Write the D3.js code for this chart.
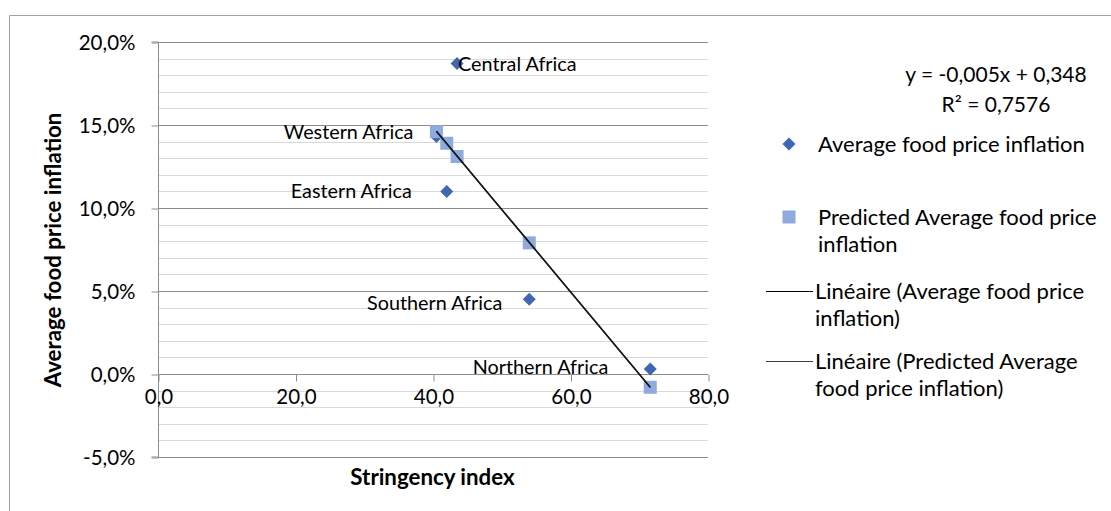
<!DOCTYPE html>
<html><head><meta charset="utf-8">
<script src="https://cdn.jsdelivr.net/npm/d3@7"></script>
<style>
body{margin:0;background:#fff}
text{font-family:Lato,"Noto Sans",sans-serif;fill:#000}
</style>
</head><body>
<svg id="chart" width="1111" height="511"></svg>
<script>
// Regional averages: stringency index vs. food price inflation
const regions    = ["Central Africa", "Western Africa", "Eastern Africa", "Southern Africa", "Northern Africa"];
const stringency = [43.5, 40.5, 42.0, 54.0, 71.6];
const inflation  = [0.187, 0.143, 0.110, 0.045, 0.003];
const predicted  = [0.131, 0.146, 0.139, 0.079, -0.008];

const xTicks = [0, 20, 40, 60, 80];
const yTicks = [-0.05, 0, 0.05, 0.10, 0.15, 0.20];
const equationText = "y = -0,005x + 0,348";
const r2Text = "R² = 0,7576";
const legendLabels = [
  ["Average food price inflation"],
  ["Predicted Average food price", "inflation"],
  ["Linéaire (Average food price", "inflation)"],
  ["Linéaire (Predicted Average", "food price inflation)"]
];

// label placement around each regional point (pixels)
const labelLayout = {
  "Central Africa":  {anchor: "start", dx: 1,   dy: 0},
  "Western Africa":  {anchor: "end",   dx: -23, dy: -5},
  "Eastern Africa":  {anchor: "end",   dx: -35, dy: 0},
  "Southern Africa": {anchor: "end",   dx: -27, dy: 4},
  "Northern Africa": {anchor: "end",   dx: -42, dy: -2}
};

const svg = d3.select("#chart");
const W = 1111, H = 511;
const plot = {left: 158, right: 708, top: 42, bottom: 457};

const x = d3.scaleLinear().domain([0, 80]).range([plot.left, plot.right]);
const y = d3.scaleLinear().domain([-0.05, 0.20]).range([plot.bottom, plot.top]);

// French-style decimals with a plain hyphen for negatives
const fmtX = v => d3.format(".1f")(v).replace(".", ",").replace("\u2212", "-");
const fmtY = v => d3.format(".1%")(v).replace(".", ",").replace("\u2212", "-");

const diamondColor = "#3f67b2";
const squareColor = "#8faadc";
const gridMinor = "#d9d9d9";
const gridMajor = "#8c8c8c";

// chart frame
svg.append("path")
  .attr("d", `M9.5,${H + 5}V15.5H${W + 5}`)
  .attr("fill", "none").attr("stroke", "#a0a0a0").attr("stroke-width", 1);

// horizontal gridlines, minor every 1 %, major every 5 %
const minor = d3.range(-5, 21).map(v => v / 100);
svg.append("g").selectAll("line").data(minor).join("line")
  .attr("x1", plot.left).attr("x2", plot.right)
  .attr("y1", d => Math.round(y(d)) + 0.5).attr("y2", d => Math.round(y(d)) + 0.5)
  .attr("stroke", d => (Math.round(d * 100) % 5 === 0) ? gridMajor : gridMinor)
  .attr("stroke-width", 1);

// y axis
const yAxis = d3.axisLeft(y).tickValues(yTicks).tickFormat(fmtY).tickSize(7).tickPadding(16);
const gy = svg.append("g").attr("transform", `translate(${plot.left + 0.5},0.5)`).call(yAxis);
gy.select(".domain").attr("stroke", gridMajor).attr("d", `M-7,${plot.bottom - 0.5}H0V${plot.top - 0.5}H-7`);
gy.selectAll(".tick line").attr("stroke", gridMajor);
gy.selectAll(".tick text").attr("fill", "#000").style("font-family", "Lato").style("font-size", "20.5px");

// x axis at zero
const xAxis = d3.axisBottom(x).tickValues(xTicks).tickFormat(fmtX).tickSize(7).tickPadding(8);
const gx = svg.append("g").attr("transform", `translate(0.5,${Math.round(y(0)) + 0.5})`).call(xAxis);
gx.select(".domain").attr("stroke", gridMajor).attr("d", `M${plot.left - 0.5},0H${plot.right - 0.5}`);
gx.selectAll(".tick line").attr("stroke", gridMajor);
gx.selectAll(".tick text").attr("fill", "#000").style("font-family", "Lato").style("font-size", "20.5px");

// axis titles
svg.append("text")
  .attr("transform", `translate(53,250) rotate(-90)`)
  .attr("text-anchor", "middle").attr("dy", "0.35em")
  .style("font-weight", "bold").style("font-size", "22.3px")
  .text("Average food price inflation");
svg.append("text")
  .attr("x", 432.5).attr("y", 477).attr("dy", "0.35em")
  .attr("text-anchor", "middle")
  .style("font-weight", "bold").style("font-size", "22.3px")
  .text("Stringency index");

const pts = regions.map((r, i) => ({region: r, sx: stringency[i], infl: inflation[i], pred: predicted[i]}));

const diamond = s => `M0,${-s}L${s},0L0,${s}L${-s},0Z`;

// observed values
svg.append("g").selectAll("path").data(pts).join("path")
  .attr("transform", d => `translate(${x(d.sx)},${y(d.infl)})`)
  .attr("d", diamond(6.5))
  .attr("fill", diamondColor);

// predicted values
svg.append("g").selectAll("rect").data(pts).join("rect")
  .attr("x", d => x(d.sx) - 6.5).attr("y", d => y(d.pred) - 6.5)
  .attr("width", 13).attr("height", 13)
  .attr("fill", squareColor);

// least-squares trendlines
function linearFit(xs, ys) {
  const mx = d3.mean(xs), my = d3.mean(ys);
  const sxy = d3.sum(xs, (v, i) => (v - mx) * (ys[i] - my));
  const sxx = d3.sum(xs, v => (v - mx) ** 2);
  const slope = sxy / sxx;
  return {slope, intercept: my - slope * mx};
}
const [xmin, xmax] = d3.extent(stringency);
[[inflation, "#000"], [predicted, "#1a1a1a"]].forEach(([ys, color]) => {
  const f = linearFit(stringency, ys);
  svg.append("line")
    .attr("x1", x(xmin)).attr("y1", y(f.intercept + f.slope * xmin))
    .attr("x2", x(xmax)).attr("y2", y(f.intercept + f.slope * xmax))
    .attr("stroke", color).attr("stroke-width", 1.4);
});

// region labels
svg.append("g").selectAll("text").data(pts).join("text")
  .attr("x", d => x(d.sx) + labelLayout[d.region].dx)
  .attr("y", d => y(d.infl) + labelLayout[d.region].dy)
  .attr("dy", "0.35em")
  .attr("text-anchor", d => labelLayout[d.region].anchor)
  .style("font-size", "19.8px")
  .text(d => d.region);

// regression equation
svg.append("text").attr("x", 996).attr("y", 75).attr("dy", "0.35em")
  .attr("text-anchor", "middle").style("font-size", "21px").text(equationText);
svg.append("text").attr("x", 996).attr("y", 105).attr("dy", "0.35em")
  .attr("text-anchor", "middle").style("font-size", "21px").text(r2Text);

// legend
const lg = svg.append("g");
const rows = [144, 217, 291, 361];
const lineH = 27;
legendLabels.forEach((lines, i) => {
  const cy = rows[i];
  if (i === 0) {
    lg.append("path").attr("transform", `translate(789,${cy})`).attr("d", diamond(6.5)).attr("fill", diamondColor);
  } else if (i === 1) {
    lg.append("rect").attr("x", 782.5).attr("y", cy - 6.5).attr("width", 13).attr("height", 13).attr("fill", squareColor);
  } else {
    lg.append("line").attr("x1", 766).attr("x2", 813).attr("y1", cy + 0.5).attr("y2", cy + 0.5)
      .attr("stroke", i === 2 ? "#000" : "#404040").attr("stroke-width", 1.2);
  }
  const tx = i < 2 ? 818 : 815;
  const t = lg.append("text").attr("x", tx).attr("y", cy).style("font-size", "22px");
  lines.forEach((s, k) => t.append("tspan").attr("x", tx).attr("y", cy + k * lineH).attr("dy", "0.35em").text(s));
});
</script>
</body></html>
